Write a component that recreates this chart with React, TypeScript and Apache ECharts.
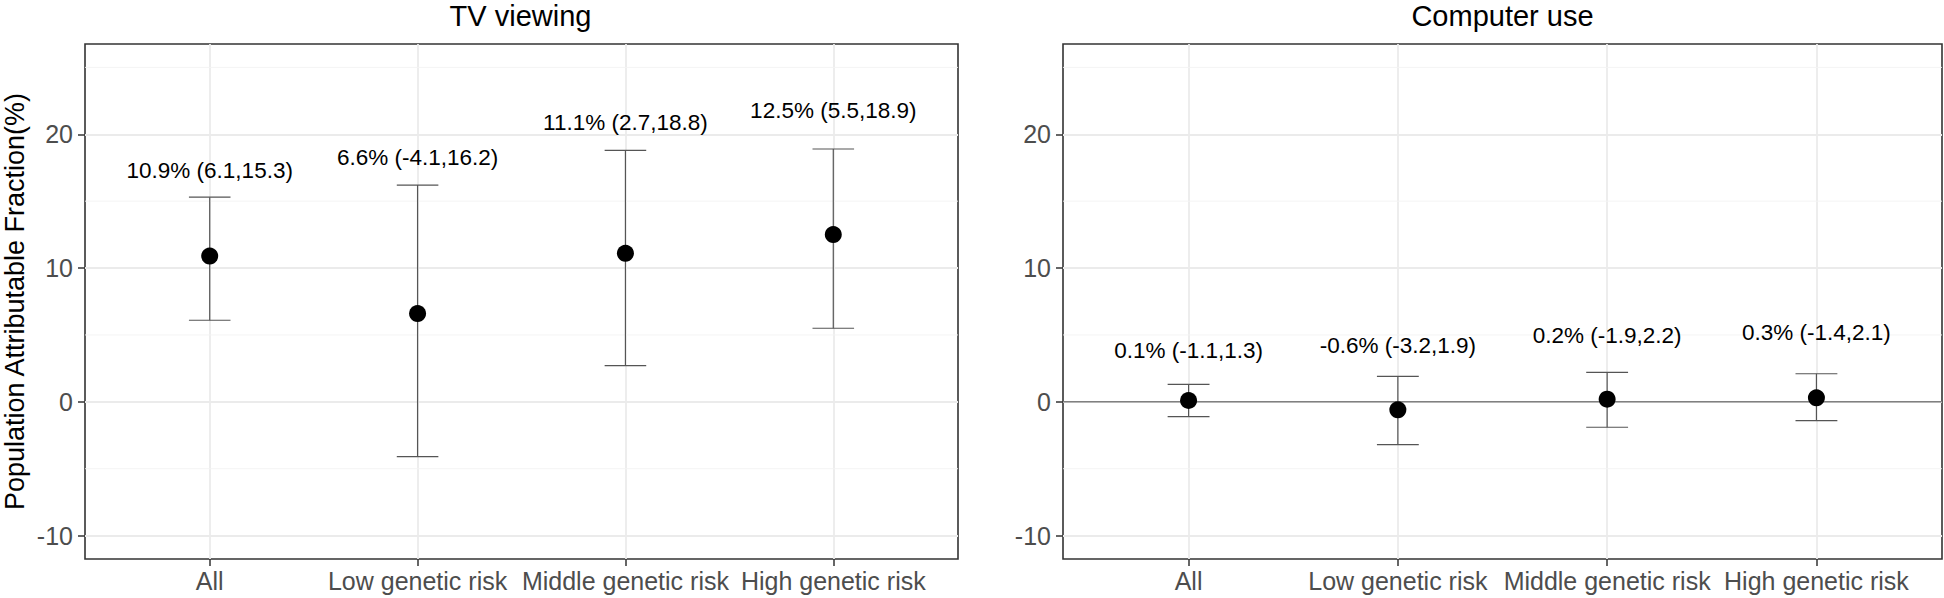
import React, { useEffect, useRef } from "react";
import * as echarts from "echarts";

// ---- data ----
const categories = ["All", "Low genetic risk", "Middle genetic risk", "High genetic risk"];
const panelTitles = ["TV viewing", "Computer use"];

const tvEst = [10.9, 6.6, 11.1, 12.5];
const tvLow = [6.1, -4.1, 2.7, 5.5];
const tvHigh = [15.3, 16.2, 18.8, 18.9];
const tvLabelY = [17.3, 18.3, 20.9, 21.8];

const pcEst = [0.1, -0.6, 0.2, 0.3];
const pcLow = [-1.1, -3.2, -1.9, -1.4];
const pcHigh = [1.3, 1.9, 2.2, 2.1];
const pcLabelY = [3.85, 4.2, 4.95, 5.15];

const yMajorTicks = [-10, 0, 10, 20];
const yMinorTicks = [-5, 5, 15, 25];
const xTicks = [1, 2, 3, 4];
const refLines = [0];

const yName = "Population Attributable Fraction(%)";

const FONT = '"Liberation Sans", Arial, Helvetica, sans-serif';

const fmt = (e: number, l: number, h: number) =>
  `${e.toFixed(1)}% (${l.toFixed(1)},${h.toFixed(1)})`;

function hLineSeries(idx: number, values: number[], color: string, width: number, z: number) {
  return {
    type: "custom",
    xAxisIndex: idx,
    yAxisIndex: idx,
    z,
    silent: true,
    data: values.map((v) => [1, v]),
    renderItem: (params: any, api: any) => {
      const cs = params.coordSys;
      const y = api.coord([api.value(0), api.value(1)])[1];
      return {
        type: "line",
        shape: { x1: cs.x, y1: y, x2: cs.x + cs.width, y2: y },
        style: { stroke: color, lineWidth: width },
      };
    },
  };
}

function errorBarSeries(idx: number, low: number[], high: number[]) {
  return {
    type: "custom",
    xAxisIndex: idx,
    yAxisIndex: idx,
    z: 3,
    silent: true,
    data: low.map((l, i) => [xTicks[i], l, high[i]]),
    renderItem: (params: any, api: any) => {
      const x = api.value(0);
      const pLo = api.coord([x, api.value(1)]);
      const pHi = api.coord([x, api.value(2)]);
      const cL = api.coord([x - 0.1, api.value(2)])[0];
      const cR = api.coord([x + 0.1, api.value(2)])[0];
      const style = { stroke: "#555555", lineWidth: 1.2 };
      return {
        type: "group",
        children: [
          { type: "line", shape: { x1: pLo[0], y1: pLo[1], x2: pHi[0], y2: pHi[1] }, style },
          { type: "line", shape: { x1: cL, y1: pHi[1], x2: cR, y2: pHi[1] }, style },
          { type: "line", shape: { x1: cL, y1: pLo[1], x2: cR, y2: pLo[1] }, style },
        ],
      };
    },
  };
}

function labelSeries(idx: number, labelY: number[], texts: string[]) {
  return {
    type: "custom",
    xAxisIndex: idx,
    yAxisIndex: idx,
    z: 5,
    silent: true,
    data: labelY.map((y, i) => [xTicks[i], y]),
    renderItem: (params: any, api: any) => {
      const p = api.coord([api.value(0), api.value(1)]);
      return {
        type: "text",
        x: p[0],
        y: p[1],
        style: {
          text: texts[params.dataIndex],
          fontSize: 22.5,
          fontFamily: FONT,
          fill: "#000000",
          align: "center",
          verticalAlign: "middle",
        },
      };
    },
  };
}

function pointSeries(idx: number, est: number[]) {
  return {
    type: "scatter",
    xAxisIndex: idx,
    yAxisIndex: idx,
    z: 4,
    silent: true,
    symbol: "circle",
    symbolSize: 17,
    itemStyle: { color: "#000000", opacity: 1 },
    data: est.map((v, i) => [xTicks[i], v]),
  };
}

function makeXAxis(idx: number) {
  return {
    type: "value",
    gridIndex: idx,
    min: 0.4,
    max: 4.6,
    axisLine: { show: false, onZero: false },
    axisTick: {
      show: true,
      customValues: xTicks,
      length: 7,
      lineStyle: { color: "#333333", width: 1.5 },
    },
    axisLabel: {
      customValues: xTicks,
      formatter: (v: number) => categories[Math.round(v) - 1] ?? "",
      color: "#4D4D4D",
      fontSize: 25,
      fontFamily: FONT,
      margin: 9,
    },
    splitLine: { show: true, lineStyle: { color: "#EBEBEB", width: 1.8 } },
  };
}

function makeYAxis(idx: number, withName: boolean) {
  return {
    type: "value",
    gridIndex: idx,
    min: -11.75,
    max: 26.75,
    name: withName ? yName : "",
    nameLocation: "middle",
    nameGap: 57,
    nameTextStyle: { fontSize: 27, fontFamily: FONT, color: "#000000" },
    axisLine: { show: false, onZero: false },
    axisTick: {
      show: true,
      customValues: yMajorTicks,
      length: 7,
      lineStyle: { color: "#333333", width: 1.5 },
    },
    axisLabel: {
      customValues: yMajorTicks,
      color: "#4D4D4D",
      fontSize: 25,
      fontFamily: FONT,
      margin: 12,
    },
    splitLine: { show: true, lineStyle: { color: "#EBEBEB", width: 1.8 } },
  };
}

export default function App() {
  const ref = useRef<HTMLDivElement>(null);
  useEffect(() => {
    if (!ref.current) return;
    const chart = echarts.init(ref.current, undefined, { renderer: "svg" });
    const grids = [
      { left: 83, top: 44, width: 875, height: 515 },
      { left: 1063, top: 44, width: 879, height: 515 },
    ];
    const tvTexts = tvEst.map((e, i) => fmt(e, tvLow[i], tvHigh[i]));
    const pcTexts = pcEst.map((e, i) => fmt(e, pcLow[i], pcHigh[i]));
    chart.setOption({
      animation: false,
      backgroundColor: "#ffffff",
      textStyle: { fontFamily: FONT },
      grid: grids.map((g) => ({
        ...g,
        show: true,
        borderColor: "#333333",
        borderWidth: 1.6,
        backgroundColor: "transparent",
        containLabel: false,
      })),
      xAxis: [makeXAxis(0), makeXAxis(1)],
      yAxis: [makeYAxis(0, true), makeYAxis(1, false)],
      graphic: panelTitles.map((t, i) => ({
        type: "text",
        x: grids[i].left + grids[i].width / 2,
        y: 15.5,
        style: {
          text: t,
          fontSize: 29,
          fontFamily: FONT,
          fill: "#000000",
          align: "center",
          verticalAlign: "middle",
        },
      })),
      series: [
        hLineSeries(0, yMinorTicks, "#F3F3F3", 0.9, 1),
        hLineSeries(1, yMinorTicks, "#F3F3F3", 0.9, 1),
        hLineSeries(1, refLines, "#808080", 1.6, 2),
        errorBarSeries(0, tvLow, tvHigh),
        errorBarSeries(1, pcLow, pcHigh),
        pointSeries(0, tvEst),
        pointSeries(1, pcEst),
        labelSeries(0, tvLabelY, tvTexts),
        labelSeries(1, pcLabelY, pcTexts),
      ],
    });
    return () => chart.dispose();
  }, []);
  return (
    <div
      ref={ref}
      style={{ position: "fixed", left: 0, top: 0, width: 1944, height: 598, background: "#fff" }}
    />
  );
}
